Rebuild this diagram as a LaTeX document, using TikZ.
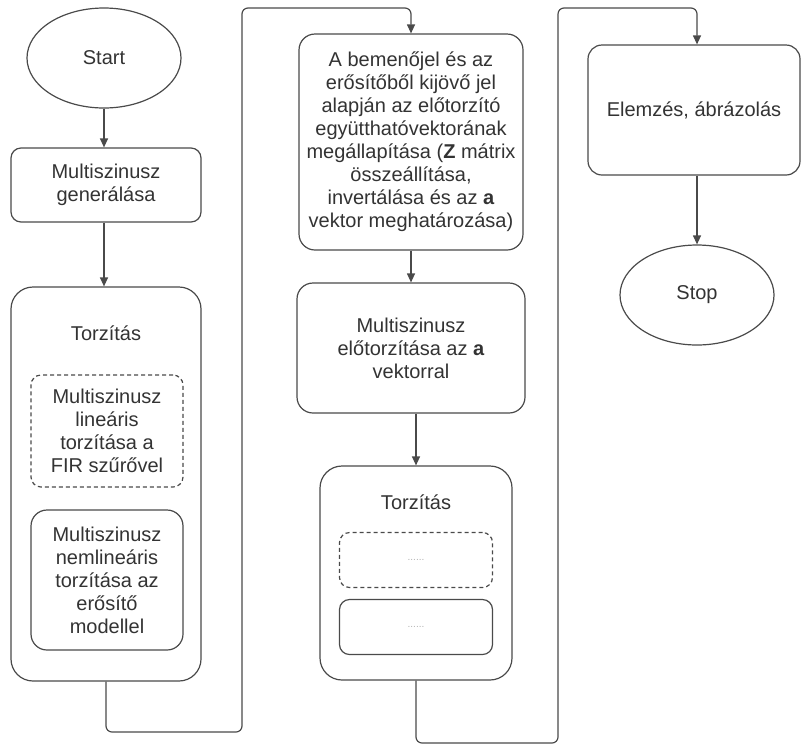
\documentclass[tikz,border=0pt]{standalone}
\usepackage{fontspec}
\setmainfont{Liberation Sans}
\usetikzlibrary{
  arrows.meta,
  positioning,
  shapes.geometric
}
\definecolor{linegray}{HTML}{4A4A4A}
\definecolor{textgray}{HTML}{333333}

\begin{document}
\begin{tikzpicture}[
  x=0.5pt, y=-0.5pt,
  base/.style={
    draw=linegray, line width=0.6pt, text=textgray,
    align=center, inner sep=1pt,
    font=\fontsize{10}{11.5}\selectfont
  },
  terminal/.style={base, ellipse, minimum width=77pt, minimum height=50pt},
  stepbox/.style 2 args={base, rectangle, rounded corners=5pt,
    minimum width=#1, minimum height=#2},
  groupbox/.style 2 args={base, rectangle, rounded corners=11pt,
    minimum width=#1, minimum height=#2},
  dashbox/.style 2 args={stepbox={#1}{#2}, dash pattern=on 2pt off 1.5pt},
  caption/.style={text=textgray, font=\fontsize{10}{11.5}\selectfont},
  dots/.style={text=gray!60, font=\tiny},
  flow/.style={draw=linegray, line width=0.6pt, rounded corners=3pt,
    -{Triangle[length=4.5pt, width=4pt]}}
]
\useasboundingbox (0,0) rectangle (801,745);

% first column
\node[terminal] (start) at (104,58) {Start};
\node[stepbox={95pt}{37pt}] (gen) at (106,185) {Multiszinusz\\generálása};
\node[groupbox={95pt}{197pt}] (torz1) at (106,484) {};
\node[caption] (torz1-title) at (106,333) {Torzítás};
\node[dashbox={76pt}{56pt}] (linear) at (107,431)
  {Multiszinusz\\lineáris\\torzítása a\\FIR szűrővel};
\node[stepbox={76pt}{70pt}, rounded corners=8pt] (nonlinear) at (107,580)
  {Multiszinusz\\nemlineáris\\torzítása az\\erősítő\\modellel};

% second column
\node[stepbox={112pt}{108pt}, rounded corners=8pt] (coef) at (411,142)
  {A bemenőjel és az\\erősítőből kijövő jel\\alapján az előtorzító\\
   együtthatóvektorának\\megállapítása (\textbf{Z} mátrix\\összeállítása,\\
   invertálása és az \textbf{a}\\vektor meghatározása)};
\node[stepbox={114pt}{65pt}, rounded corners=8pt] (predist) at (411,348)
  {Multiszinusz\\előtorzítása az \textbf{a}\\vektorral};
\node[groupbox={96pt}{107pt}] (torz2) at (416,573) {};
\node[caption] (torz2-title) at (416,502) {Torzítás};
\node[dashbox={76.5pt}{27.5pt}] (blank1) at (416,560) {};
\node[dots] at (blank1) {......};
\node[stepbox={76.5pt}{27.5pt}] (blank2) at (416,627) {};
\node[dots] at (blank2) {......};

% third column
\node[stepbox={106pt}{65pt}, rounded corners=7pt] (analysis) at (694,110)
  {Elemzés, ábrázolás};
\node[terminal] (stop) at (697,295) {Stop};

% connectors
\coordinate (low1) at (242,732);
\coordinate (top1) at (242,8);
\coordinate (low2) at (558,743);
\coordinate (top2) at (558,8);

\draw[flow] (start) -- (start |- gen.north);
\draw[flow] (gen.south -| start) -- (start |- torz1.north);
\draw[flow] (torz1.south) |- (low1) -- (top1) -| (coef.north);
\draw[flow] (coef) -- (predist);
\draw[flow] (predist.south -| torz2) -- (torz2.north);
\draw[flow] (torz2.south) |- (low2) -- (top2) -| (stop |- analysis.north);
\draw[flow] (analysis.south -| stop) -- (stop);
\end{tikzpicture}
\end{document}
